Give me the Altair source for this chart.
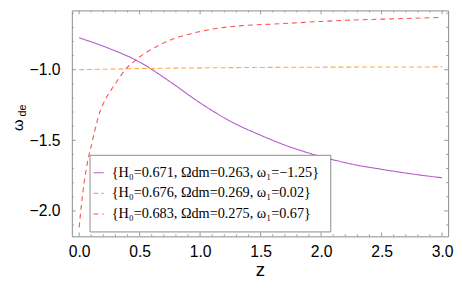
import altair as alt
import pandas as pd

# ---- data ----
labels = [
    "{H₀=0.671, Ωdm=0.263, ω₁=−1.25}",
    "{H₀=0.676, Ωdm=0.269, ω₁=0.02}",
    "{H₀=0.683, Ωdm=0.275, ω₁=0.67}",
]
colors = ["#B35CC9", "#FFA64D", "#FF5050"]
dashes = [[1, 0], [5, 3], [5, 4]]

z_purple = [0, 0.25, 0.5, 0.75, 1.0, 1.25, 1.5, 1.75, 2.0, 2.25, 2.5, 2.75, 3.0]
w_purple = [-0.774, -0.85, -0.946, -1.084, -1.235, -1.365, -1.464, -1.549, -1.615, -1.668, -1.705, -1.738, -1.765]

z_orange = [0, 0.25, 0.5, 1.0, 1.5, 2.0, 2.5, 3.0]
w_orange = [-1.0, -0.996, -0.992, -0.987, -0.984, -0.982, -0.981, -0.98]

z_red = [0, 0.02, 0.04, 0.06, 0.08, 0.1, 0.13, 0.16, 0.2, 0.27, 0.33, 0.38, 0.45, 0.5,
         0.6, 0.7, 0.8, 0.9, 1.0, 1.2, 1.4, 1.6, 1.8, 2.0, 2.2, 2.5, 2.75, 3.0]
w_red = [-2.117, -1.95, -1.81, -1.70, -1.61, -1.54, -1.43, -1.33, -1.24, -1.136, -1.06, -1.0, -0.945, -0.91,
         -0.855, -0.81, -0.775, -0.75, -0.729, -0.70, -0.685, -0.677, -0.668, -0.658, -0.65, -0.642, -0.636, -0.63]

x_major = [0.0, 0.5, 1.0, 1.5, 2.0, 2.5, 3.0]
x_minor = [round(0.1 * i, 1) for i in range(0, 31) if i % 5 != 0]
y_major = [-2.0, -1.5, -1.0]
y_minor = [round(-2.1 + 0.1 * i, 1) for i in range(0, 16) if round(-2.1 + 0.1 * i, 1) not in (-2.0, -1.5, -1.0)]

x_domain = [-0.06, 3.05]
y_domain = [-2.18, -0.58]

W, H = 383, 230
FRAME = "#8c8c8c"

rows = []
for lab, zs, ws in zip(labels, [z_purple, z_orange, z_red], [w_purple, w_orange, w_red]):
    for z, w in zip(zs, ws):
        rows.append({"series": lab, "z": z, "w": w})
df = pd.DataFrame(rows)

xs = alt.Scale(domain=x_domain, nice=False, zero=False)
ys = alt.Scale(domain=y_domain, nice=False, zero=False)

lines = alt.Chart(df).mark_line(strokeWidth=1.1, interpolate="monotone").encode(
    x=alt.X("z:Q", scale=xs,
            axis=alt.Axis(values=x_major, format=".1f", title="z", ticks=False, domain=False,
                          grid=False, labelFlush=False, labelOverlap=False,
                          labelFontSize=16, labelPadding=8, titleFontSize=19,
                          titleFontWeight="normal", titlePadding=1)),
    y=alt.Y("w:Q", scale=ys,
            axis=alt.Axis(values=y_major, format=".1f", title=None, ticks=False, domain=False,
                          grid=False, labelFlush=False, labelOverlap=False,
                          labelFontSize=16, labelPadding=12)),
    color=alt.Color("series:N", scale=alt.Scale(domain=labels, range=colors),
                    legend=alt.Legend(title=None, orient="none", legendX=18, legendY=147,
                                      symbolType="stroke", symbolSize=110, symbolStrokeWidth=1.2,
                                      labelFont="Liberation Serif", labelFontSize=14.5,
                                      labelLimit=500, rowPadding=6, padding=11,
                                      symbolOffset=-9, labelOffset=6,
                                      strokeColor=FRAME, fillColor="white")),
    strokeDash=alt.StrokeDash("series:N", scale=alt.Scale(domain=labels, range=dashes), legend=None),
    order=alt.value(0),
)

tick_color = "#999999"

def xticks(vals, length):
    d = pd.DataFrame({"t": vals})
    bottom = alt.Chart(d).mark_rule(color=tick_color, strokeWidth=1).encode(
        x=alt.X("t:Q", scale=xs), y=alt.value(H), y2=alt.value(H - length))
    top = alt.Chart(d).mark_rule(color=tick_color, strokeWidth=1).encode(
        x=alt.X("t:Q", scale=xs), y=alt.value(0), y2=alt.value(length))
    return [bottom, top]

def yticks(vals, length):
    d = pd.DataFrame({"t": vals})
    left = alt.Chart(d).mark_rule(color=tick_color, strokeWidth=1).encode(
        y=alt.Y("t:Q", scale=ys), x=alt.value(0), x2=alt.value(length))
    right = alt.Chart(d).mark_rule(color=tick_color, strokeWidth=1).encode(
        y=alt.Y("t:Q", scale=ys), x=alt.value(W), x2=alt.value(W - length))
    return [left, right]

ticks = xticks(x_major, 4) + xticks(x_minor, 2) + yticks(y_major, 4) + yticks(y_minor, 2)

one = pd.DataFrame({"a": [0]})
omega = alt.Chart(one).mark_text(text="ω", angle=270, fontSize=15, font="Liberation Sans",
                                 align="center", baseline="alphabetic").encode(
    x=alt.value(-50), y=alt.value(117))
de = alt.Chart(one).mark_text(text="de", angle=270, fontSize=11, font="Liberation Sans",
                              align="center", baseline="alphabetic").encode(
    x=alt.value(-47), y=alt.value(102))

chart = alt.layer(*ticks, lines, omega, de).properties(
    width=W, height=H,
    autosize=alt.AutoSizeParams(type="none"),
    padding={"left": 65, "top": 0, "right": 7, "bottom": 43},
).configure_view(stroke=FRAME, strokeWidth=1).configure_axis(
    labelFont="Liberation Sans", titleFont="Liberation Sans", labelColor="black", titleColor="black"
)

chart.save("out.html", embed_options={"renderer": "svg", "actions": False})
